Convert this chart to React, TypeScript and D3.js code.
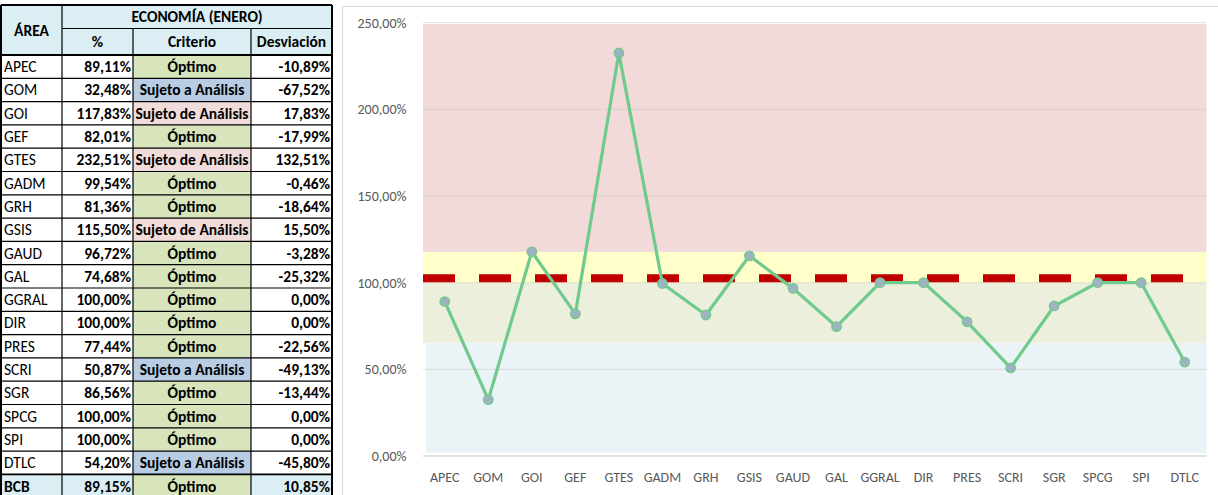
import React from "react";
import * as d3 from "d3";

const areas = ["APEC","GOM","GOI","GEF","GTES","GADM","GRH","GSIS","GAUD","GAL","GGRAL","DIR","PRES","SCRI","SGR","SPCG","SPI","DTLC"];
const pctValues = [89.11,32.48,117.83,82.01,232.51,99.54,81.36,115.5,96.72,74.68,100,100,77.44,50.87,86.56,100,100,54.2];
const criteria = ["Óptimo","Sujeto a Análisis","Sujeto de Análisis","Óptimo","Sujeto de Análisis","Óptimo","Óptimo","Sujeto de Análisis","Óptimo","Óptimo","Óptimo","Óptimo","Óptimo","Sujeto a Análisis","Óptimo","Óptimo","Óptimo","Sujeto a Análisis"];
const deviations = [-10.89,-67.52,17.83,-17.99,132.51,-0.46,-18.64,15.5,-3.28,-25.32,0,0,-22.56,-49.13,-13.44,0,0,-45.8];
const totalRow = { area: "BCB", pct: 89.15, criterio: "Óptimo", dev: 10.85 };
const yTicks = [0, 50, 100, 150, 200, 250];
const bands = [
  { from: 1.9, to: 65.4, color: "#eaf4f7", inset: 3 },
  { from: 65.4, to: 100, color: "#ebefdc", inset: 0 },
  { from: 100, to: 117.8, color: "#ffffc9", inset: 0 },
  { from: 117.8, to: 249.2, color: "#f2dadb", inset: 0 },
];
const targetLine = 102.5;

const critFill: Record<string, string> = {
  "Óptimo": "#d8e4bc",
  "Sujeto a Análisis": "#b8cce4",
  "Sujeto de Análisis": "#f2dcdb",
};

const locale = d3.formatLocale({ decimal: ",", thousands: ".", grouping: [3], currency: ["", "€"], minus: "-" });
const fmtPct = locale.format(".2%");
const FONT = "Carlito, Lato, 'Noto Sans', sans-serif";

function Table() {
  const colX = [1, 62, 133, 251, 332];
  const hTop = 5, h1 = 28.5, h2 = 55;
  const rowH = 23.3;
  const rows = areas.map((a, i) => ({ area: a, pct: pctValues[i], criterio: criteria[i], dev: deviations[i], total: false }));
  rows.push({ ...totalRow, total: true });
  const headBlue = "#daeef3";
  const fs = 15.5;
  return (
    <g fontFamily={FONT} fontSize={fs} fill="#000">
      <rect x={colX[0]} y={hTop} width={colX[4] - colX[0]} height={h2 - hTop} fill={headBlue} />
      {rows.map((r, i) => {
        const y0 = h2 + i * rowH;
        const cy = y0 + rowH / 2 + 5.5;
        return (
          <g key={r.area}>
            {r.total && <rect x={colX[0]} y={y0} width={colX[4] - colX[0]} height={rowH} fill={headBlue} />}
            <rect x={colX[2]} y={y0} width={colX[3] - colX[2]} height={rowH} fill={critFill[r.criterio]} />
            <text x={colX[0] + 3} y={cy} fontWeight={r.total ? 700 : 400}>{r.area}</text>
            <text x={colX[2] - 2} y={cy} textAnchor="end" fontWeight={700}>{fmtPct(r.pct / 100)}</text>
            <text x={(colX[2] + colX[3]) / 2} y={cy} textAnchor="middle" fontWeight={700}>{r.criterio}</text>
            <text x={colX[4] - 2} y={cy} textAnchor="end" fontWeight={700}>{fmtPct(r.dev / 100)}</text>
          </g>
        );
      })}
      <text x={(colX[0] + colX[1]) / 2} y={(hTop + h2) / 2 + 5.5} textAnchor="middle" fontWeight={700}>ÁREA</text>
      <text x={(colX[1] + colX[4]) / 2} y={(hTop + h1) / 2 + 5.5} textAnchor="middle" fontWeight={700}>ECONOMÍA (ENERO)</text>
      <text x={(colX[1] + colX[2]) / 2} y={(h1 + h2) / 2 + 5.5} textAnchor="middle" fontWeight={700}>%</text>
      <text x={(colX[2] + colX[3]) / 2} y={(h1 + h2) / 2 + 5.5} textAnchor="middle" fontWeight={700}>Criterio</text>
      <text x={(colX[3] + colX[4]) / 2} y={(h1 + h2) / 2 + 5.5} textAnchor="middle" fontWeight={700}>Desviación</text>
      <g stroke="#000" strokeWidth={1.2}>
        <line x1={colX[1]} x2={colX[4]} y1={h1} y2={h1} />
        {rows.map((r, i) => (
          <line key={i} x1={colX[0]} x2={colX[4]} y1={h2 + i * rowH} y2={h2 + i * rowH} strokeWidth={i === 0 || r.total ? 1.8 : 1.2} />
        ))}
        <line x1={colX[1]} x2={colX[1]} y1={hTop} y2={500} />
        <line x1={colX[2]} x2={colX[2]} y1={h1} y2={500} />
        <line x1={colX[3]} x2={colX[3]} y1={h1} y2={500} />
        <line x1={colX[0]} x2={colX[0]} y1={hTop} y2={500} strokeWidth={2} />
        <line x1={colX[4]} x2={colX[4]} y1={hTop} y2={500} strokeWidth={2} />
        <line x1={colX[0]} x2={colX[4]} y1={hTop} y2={hTop} strokeWidth={2} />
      </g>
    </g>
  );
}

function Chart() {
  const left = 423, right = 1206.5, top = 22.7, bottom = 456;
  const x = d3.scaleBand<string>().domain(areas).range([left, right]).padding(0);
  const y = d3.scaleLinear().domain([0, 250]).range([bottom, top]);
  const cx = (a: string) => (x(a) as number) + x.bandwidth() / 2;
  const line = d3.line<number>().x((_, i) => cx(areas[i])).y((d) => y(d));
  const green = "#6fca8c";
  return (
    <g fontFamily={FONT}>
      <rect x={342.5} y={6.5} width={880} height={500} fill="#fff" stroke="#d9d9d9" strokeWidth={1} />
      {bands.map((b, i) => (
        <rect key={i} x={left + b.inset} y={y(b.to)} width={right - left - b.inset} height={y(b.from) - y(b.to)} fill={b.color} />
      ))}
      {yTicks.map((t) => (
        <g key={t}>
          <line x1={left} x2={right} y1={y(t)} y2={y(t)} stroke={t === 0 ? "#d9d9d9" : "#d0c8c8"} strokeOpacity={t === 0 ? 1 : 0.6} strokeWidth={t === 0 ? 1.5 : 1} />
          <text x={406.5} y={y(t) + 5} textAnchor="end" fontSize={14} fill="#595959">{fmtPct(t / 100)}</text>
        </g>
      ))}
      <line x1={left} x2={right} y1={y(targetLine)} y2={y(targetLine)} stroke="#c00000" strokeWidth={8} strokeDasharray="32,24" />
      <path d={line(pctValues) || ""} fill="none" stroke={green} strokeWidth={3.2} strokeLinejoin="round" />
      {pctValues.map((v, i) => (
        <circle key={i} cx={cx(areas[i])} cy={y(v)} r={4.8} fill="#9db3c0" stroke={green} strokeWidth={1.2} />
      ))}
      {areas.map((a) => (
        <text key={a} x={cx(a)} y={482} textAnchor="middle" fontSize={14} fill="#595959">{a}</text>
      ))}
    </g>
  );
}

export default function App() {
  return (
    <div style={{ position: "fixed", left: 0, top: 0 }}>
      <svg width={1218} height={495} style={{ display: "block", background: "#fff" }}>
        <Table />
        <Chart />
      </svg>
    </div>
  );
}
